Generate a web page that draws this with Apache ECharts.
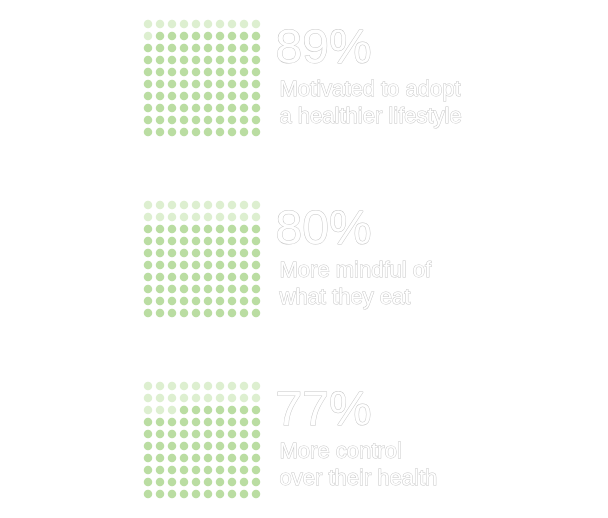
<!DOCTYPE html>
<html><head><meta charset="utf-8">
<script src="https://cdn.jsdelivr.net/npm/echarts@6/dist/echarts.min.js"></script>
<style>html,body{margin:0;background:#fff}#c{width:608px;height:518px}</style>
</head><body><div id="c"></div>
<script>
const percents = [89, 80, 77];
const numberLabels = ['89%', '80%', '77%'];
const captionLine1 = ['Motivated to adopt', 'More mindful of', 'More control'];
const captionLine2 = ['a healthier lifestyle', 'what they eat', 'over their health'];

const chart = echarts.init(document.getElementById('c'));
const step = 181;
const grids = [], xAxes = [], yAxes = [], series = [], graphics = [];
const font = '"Liberation Sans", Arial, sans-serif';
percents.forEach((p, k) => {
  grids.push({left: 142, top: 18 + k * step, width: 120, height: 120});
  xAxes.push({gridIndex: k, type: 'value', min: -0.5, max: 9.5, show: false});
  yAxes.push({gridIndex: k, type: 'value', min: -0.5, max: 9.5, inverse: true, show: false});
  const on = [], off = [];
  for (let i = 0; i < 100; i++) {
    const pt = [i % 10, Math.floor(i / 10)];
    (i >= 100 - p ? on : off).push(pt);
  }
  series.push({type: 'scatter', xAxisIndex: k, yAxisIndex: k, symbolSize: 8.5, data: off,
    itemStyle: {color: '#d5ebc4'}, silent: true});
  series.push({type: 'scatter', xAxisIndex: k, yAxisIndex: k, symbolSize: 8.5, data: on,
    itemStyle: {color: '#a9d58b'}, silent: true});
  const oy = k * step;
  graphics.push({type: 'text', left: 275, top: oy + 25, style: {text: numberLabels[k], font: '48px ' + font,
    fill: '#fff', stroke: '#c8c8c8', lineWidth: 1, verticalAlign: 'middle'}});
  graphics.push({type: 'text', left: 279, top: oy + 78, style: {text: captionLine1[k], font: '22px ' + font,
    fill: '#fff', stroke: '#c8c8c8', lineWidth: 1, verticalAlign: 'middle'}});
  graphics.push({type: 'text', left: 279, top: oy + 105, style: {text: captionLine2[k], font: '22px ' + font,
    fill: '#fff', stroke: '#c8c8c8', lineWidth: 1, verticalAlign: 'middle'}});
});
chart.setOption({animation: false, grid: grids, xAxis: xAxes, yAxis: yAxes, series, graphic: graphics});
</script></body></html>
